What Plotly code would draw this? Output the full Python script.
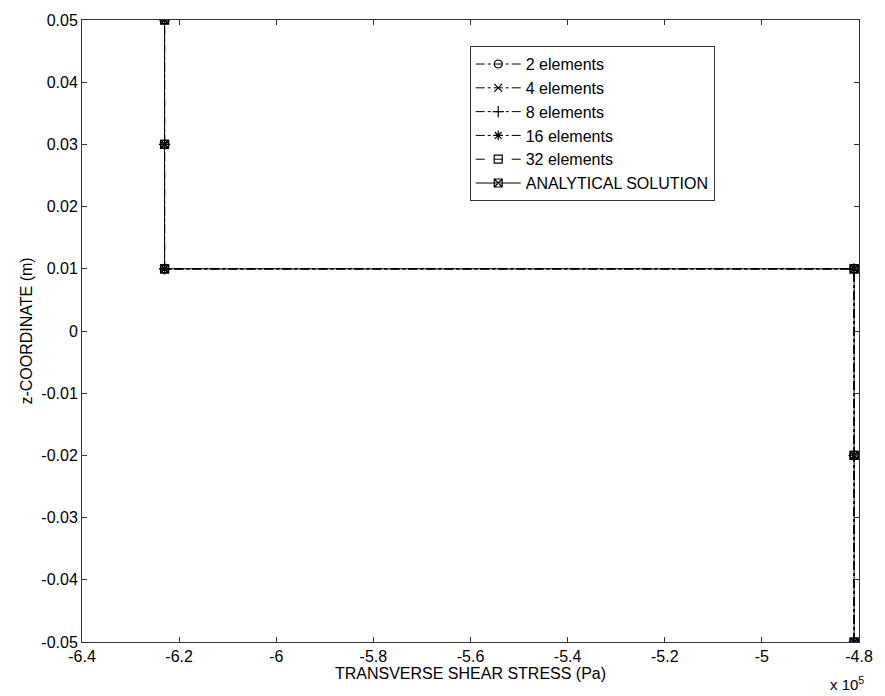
import plotly.graph_objects as go

# Data (x in units of 1e5 Pa)
x_vals = [-4.81, -4.81, -4.81, -6.23, -6.23, -6.23]
z_vals = [-0.05, -0.02, 0.01, 0.01, 0.03, 0.05]

series_names = ["2 elements", "4 elements", "8 elements", "16 elements",
                "32 elements", "ANALYTICAL SOLUTION"]
symbols = ["circle-open", "x-thin-open", "cross-thin-open", "asterisk-open",
           "square-open", "square-x-open"]
dashes = ["dashdot", "dashdot", "dashdot", "dashdot", "dash", "solid"]

x_ticks = [-6.4, -6.2, -6.0, -5.8, -5.6, -5.4, -5.2, -5.0, -4.8]
x_labels = ["-6.4", "-6.2", "-6", "-5.8", "-5.6", "-5.4", "-5.2", "-5", "-4.8"]
y_ticks = [-0.05, -0.04, -0.03, -0.02, -0.01, 0.0, 0.01, 0.02, 0.03, 0.04, 0.05]
y_labels = ["-0.05", "-0.04", "-0.03", "-0.02", "-0.01", "0", "0.01", "0.02",
            "0.03", "0.04", "0.05"]

fig = go.Figure()
for name, sym, dash in zip(series_names, symbols, dashes):
    fig.add_trace(go.Scatter(
        x=x_vals, y=z_vals, name=name, mode="lines+markers",
        line=dict(color="black", width=1, dash=dash),
        marker=dict(symbol=sym, size=8, color="black",
                    line=dict(color="black", width=1.2)),
    ))

font = "Liberation Sans, Arial, sans-serif"
axis_common = dict(
    showline=True, linecolor="#333333", linewidth=1, mirror="ticks",
    ticks="inside", ticklen=5, tickcolor="#333333", showgrid=False,
    zeroline=False, tickfont=dict(family=font, size=16, color="black"),
)
fig.update_layout(
    width=885, height=696,
    margin=dict(l=82, r=18, t=19, b=54),
    paper_bgcolor="white", plot_bgcolor="white",
    font=dict(family=font, size=16, color="black"),
    xaxis=dict(range=[-6.4, -4.8], tickvals=x_ticks, ticktext=x_labels,
               title=dict(text="TRANSVERSE SHEAR STRESS (Pa)", standoff=2,
                          font=dict(size=16)), **axis_common),
    yaxis=dict(range=[-0.05, 0.05], tickvals=y_ticks, ticktext=y_labels,
               title=dict(text="z-COORDINATE (m)", standoff=4,
                          font=dict(size=16)), **axis_common),
    legend=dict(x=0.499, y=0.958, xanchor="left", yanchor="top",
                bgcolor="white", bordercolor="#333333", borderwidth=1,
                font=dict(family=font, size=16, color="black"),
                tracegroupgap=0, itemwidth=45),
    showlegend=True,
    annotations=[dict(text="x 10<sup>5</sup>", xref="paper", yref="paper",
                      x=0.985, y=-0.048, xanchor="center", yanchor="top",
                      showarrow=False, font=dict(family=font, size=15))],
)

fig.write_html("out.html")
